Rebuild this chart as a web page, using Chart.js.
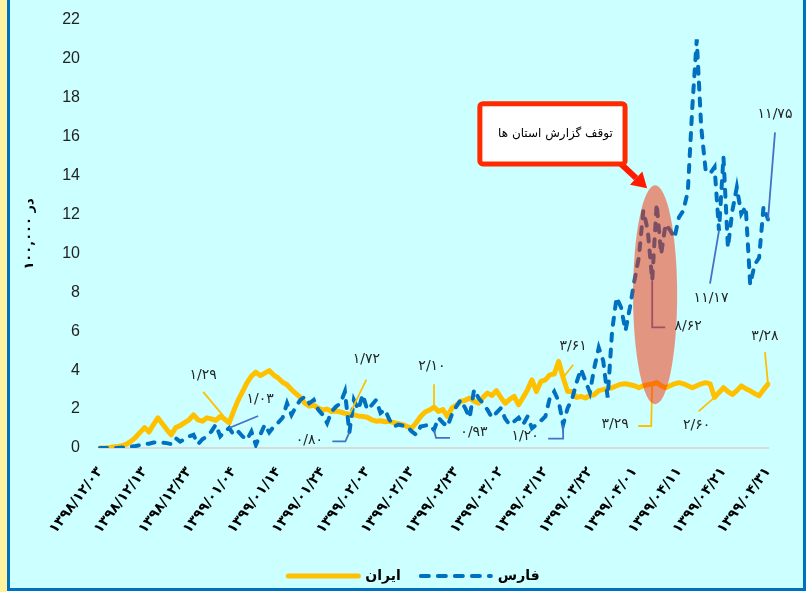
<!DOCTYPE html>
<html><head><meta charset="utf-8">
<script src="https://cdn.jsdelivr.net/npm/chart.js@4"></script>
<style>
html,body{margin:0;padding:0;width:809px;height:592px;overflow:hidden;background:#fff;}
#strip{position:absolute;left:0;top:0;width:7px;height:592px;background:#FFF3A0;}
#frame{position:absolute;left:7px;top:-3px;width:793px;height:588px;border:3px solid #0070C0;background:#CCFFFF;}
canvas{position:absolute;left:0;top:0;}
</style></head>
<body><div id="strip"></div><div id="frame"></div><canvas id="c" width="809" height="592"></canvas>
<script>
// day index from 1398/12/03 (0) to 1399/04/31 (150)
const days = Array.from({length: 151}, (_, i) => i);
const tickLabels = ['۱۳۹۸/۱۲/۰۳','۱۳۹۸/۱۲/۱۳','۱۳۹۸/۱۲/۲۳','۱۳۹۹/۰۱/۰۴','۱۳۹۹/۰۱/۱۴','۱۳۹۹/۰۱/۲۴','۱۳۹۹/۰۲/۰۳','۱۳۹۹/۰۲/۱۳','۱۳۹۹/۰۲/۲۳','۱۳۹۹/۰۳/۰۲','۱۳۹۹/۰۳/۱۲','۱۳۹۹/۰۳/۲۲','۱۳۹۹/۰۴/۰۱','۱۳۹۹/۰۴/۱۱','۱۳۹۹/۰۴/۲۱','۱۳۹۹/۰۴/۳۱'];
const seriesNames = ['ایران', 'فارس'];
const iran = [0,0,0.02,0.05,0.08,0.12,0.2,0.35,0.55,0.8,
 1.05,0.82,1.2,1.55,1.25,0.95,0.68,1.05,1.15,1.3,
 1.45,1.7,1.45,1.38,1.55,1.5,1.42,1.62,1.48,1.29,
 1.9,2.45,2.9,3.35,3.7,3.9,3.72,3.85,3.98,3.75,
 3.6,3.38,3.25,3.0,2.8,2.6,2.3,2.15,2.2,2.05,
 1.95,2.0,1.88,1.9,1.85,1.78,1.72,1.7,1.65,1.62,
 1.58,1.45,1.38,1.4,1.35,1.37,1.3,1.25,1.2,1.1,
 1.02,1.3,1.62,1.85,1.95,2.1,1.88,1.97,1.62,2.05,
 2.2,2.4,2.45,2.57,2.4,2.3,2.6,2.82,2.7,2.95,
 2.6,2.3,2.5,2.65,2.22,2.6,3.0,3.5,2.9,3.42,
 3.5,3.76,3.8,4.45,3.61,2.9,2.9,2.6,2.65,2.57,
 2.7,2.74,2.95,3.0,3.05,3.1,3.2,3.28,3.3,3.25,
 3.2,3.1,3.19,3.25,3.29,3.36,3.2,3.1,3.2,3.3,
 3.36,3.3,3.2,3.1,3.2,3.3,3.36,3.3,2.6,2.85,
 3.1,2.9,2.75,2.95,3.19,3.05,2.94,2.8,2.68,3.0,
 3.28];
const fars = [0,0,0,0,0,0.02,0.05,0.08,0.1,0.15,
 0.2,0.22,0.28,0.3,0.28,0.25,0.2,0.5,0.33,0.45,
 0.6,0.68,0.2,0.45,0.6,0.85,1.2,0.6,0.85,1.03,
 0.68,0.85,0.6,0.42,0.85,0.16,0.68,1.2,0.8,1.1,
 1.3,1.55,2.3,1.7,2.13,2.47,2.64,2.3,2.47,1.97,
 1.71,1.28,1.88,2.13,2.3,2.9,0.8,2.47,1.97,2.74,
 1.97,2.2,2.47,1.8,1.97,1.45,1.1,1.2,1.15,1.1,
 0.85,0.68,1.1,1.15,1.2,0.93,1.55,1.3,1.1,1.71,
 2.13,2.47,2.05,1.56,3.0,2.57,2.3,1.97,1.56,1.8,
 2.05,1.5,1.2,1.37,1.56,1.2,1.62,1.02,1.2,1.4,
 1.62,2.57,2.9,2.4,1.2,2.05,2.5,3.36,4.05,3.45,
 2.85,4.13,5.16,4.48,2.59,6.03,7.74,7.23,6.03,7.23,
 8.6,9.8,12.2,11.2,8.62,12.55,9.96,11.5,11.2,10.8,
 11.86,12.2,13.2,17.5,21.0,16.5,14.27,14.1,14.44,11.17,
 14.96,10.3,12.2,13.4,12.03,12.4,8.4,9.43,9.77,12.4,
 11.75];
// annotated days: [series, day index]
const notedPoints = [[0,29],[1,29],[0,56],[1,56],[0,75],[1,75],[0,104],[1,104],[0,124],[1,124],[0,138],[1,139],[0,150],[1,150]];
const noteText = 'توقف گزارش استان ها';
const yTitle = 'در ۱۰۰,۰۰۰';

// ---- styling (pixel offsets of label & leader relative to the annotated point) ----
const noteStyle = [
  {label:[-26,-48], path:[[-26,-31]]},
  {label:[31,-29], path:[[29,-12]]},
  {label:[17,-55], path:[[17,-35]]},
  {label:[-40,8], path:[[-4,9],[-17,9]]},
  {label:[-2,-41], path:[[0,-23]]},
  {label:[40,2], path:[[2,8],[16,8]]},
  {label:[10,-31], path:[[10,-13]]},
  {label:[-38,12], path:[[0,14],[-15,14]]},
  {label:[-37,40], path:[[-1,42],[-14,42]]},
  {label:[36,46], path:[[0,47],[13,47]]},
  {label:[-18,28], path:[[-16,14]]},
  {label:[-8,68], path:[[-9,53]]},
  {label:[-3,-48], path:[[-3,-32]]},
  {label:[7,-105], path:[[7,-87]]}
];
const colors = ['#FFC000', '#0070C0'];
const leaderColors = ['#FFC000', '#4472C4'];
const ellipseSpan = {from:119.7, to:129.6, low:2.25, high:13.5};
const boxSpan = {from:85.3, to:117.9, top:17.7, bottom:14.6};

const faDigits = '۰۱۲۳۴۵۶۷۸۹';
const toFa = v => v.toFixed(2).replace(/[0-9]/g, d => faDigits[d]).replace('.', '/');

const annotPlugin = {
  id: 'annot',
  afterDatasetsDraw(chart) {
    const {ctx, scales: {x, y}} = chart;
    const series = [iran, fars];
    ctx.save();
    // leaders
    notedPoints.forEach(([s, i], k) => {
      const px = x.getPixelForValue(i), py = y.getPixelForValue(series[s][i]);
      ctx.beginPath();
      ctx.strokeStyle = leaderColors[s];
      ctx.lineWidth = 1.8;
      ctx.moveTo(px, py);
      noteStyle[k].path.forEach(([dx, dy]) => ctx.lineTo(px + dx, py + dy));
      ctx.stroke();
    });
    // ellipse
    const ex1 = x.getPixelForValue(ellipseSpan.from), ex2 = x.getPixelForValue(ellipseSpan.to);
    const ey1 = y.getPixelForValue(ellipseSpan.high), ey2 = y.getPixelForValue(ellipseSpan.low);
    const ecx = (ex1 + ex2) / 2, ecy = (ey1 + ey2) / 2;
    ctx.beginPath();
    ctx.ellipse(ecx, ecy, (ex2 - ex1) / 2, (ey2 - ey1) / 2, 0, 0, Math.PI * 2);
    ctx.fillStyle = 'rgba(248,45,5,0.5)';
    ctx.fill();
    // value labels
    ctx.fillStyle = '#262626';
    ctx.font = '14px "DejaVu Sans"';
    ctx.textAlign = 'center';
    ctx.textBaseline = 'middle';
    notedPoints.forEach(([s, i], k) => {
      const px = x.getPixelForValue(i), py = y.getPixelForValue(series[s][i]);
      const [dx, dy] = noteStyle[k].label;
      ctx.fillText(toFa(series[s][i]), px + dx, py + dy);
    });
    // callout box
    const bx1 = x.getPixelForValue(boxSpan.from), bx2 = x.getPixelForValue(boxSpan.to);
    const by1 = y.getPixelForValue(boxSpan.top), by2 = y.getPixelForValue(boxSpan.bottom);
    // arrow
    const ax = bx2 - 4, ay = by2;
    const tx = ecx - 8, ty = ey1 + 3;
    const ang = Math.atan2(ty - ay, tx - ax);
    const head = 15;
    ctx.strokeStyle = '#FF1A00';
    ctx.fillStyle = '#FF1A00';
    ctx.lineWidth = 6;
    ctx.beginPath();
    ctx.moveTo(ax, ay);
    ctx.lineTo(tx - Math.cos(ang) * head, ty - Math.sin(ang) * head);
    ctx.stroke();
    ctx.beginPath();
    ctx.moveTo(tx, ty);
    ctx.lineTo(tx - Math.cos(ang) * head + Math.sin(ang) * 9, ty - Math.sin(ang) * head - Math.cos(ang) * 9);
    ctx.lineTo(tx - Math.cos(ang) * head - Math.sin(ang) * 9, ty - Math.sin(ang) * head + Math.cos(ang) * 9);
    ctx.closePath();
    ctx.fill();
    ctx.beginPath();
    ctx.roundRect(bx1, by1, bx2 - bx1, by2 - by1, 3);
    ctx.fillStyle = '#FFFFFF';
    ctx.fill();
    ctx.lineWidth = 5;
    ctx.strokeStyle = '#FF2A00';
    ctx.stroke();
    ctx.fillStyle = '#000';
    ctx.font = '12px "DejaVu Sans"';
    ctx.fillText(noteText, (bx1 + bx2) / 2 + 3, (by1 + by2) / 2);
    ctx.restore();
  }
};

new Chart(document.getElementById('c'), {
  type: 'line',
  data: {
    labels: days,
    datasets: [
      {label: seriesNames[0], data: iran, borderColor: colors[0], backgroundColor: colors[0], borderWidth: 5,
       pointRadius: 0, tension: 0, borderJoinStyle: 'round', borderCapStyle: 'round', order: 1},
      {label: seriesNames[1], data: fars, borderColor: colors[1], backgroundColor: colors[1], borderWidth: 4,
       borderDash: [7, 9], borderCapStyle: 'round', pointRadius: 0, tension: 0, order: 0}
    ]
  },
  options: {
    responsive: false,
    animation: false,
    devicePixelRatio: 1,
    events: [],
    layout: {padding: {left: 60, right: 41, top: 20, bottom: -1}},
    plugins: {
      tooltip: {enabled: false},
      legend: {
        position: 'bottom',
        labels: {
          usePointStyle: true, pointStyle: 'line', pointStyleWidth: 70,
          padding: 20, color: '#000',
          font: {family: '"DejaVu Sans"', size: 14, weight: 'bold'},
          sort: (a, b) => a.datasetIndex - b.datasetIndex,
          generateLabels: chart => Chart.defaults.plugins.legend.labels.generateLabels(chart).map(l => {
            const ds = chart.data.datasets[l.datasetIndex];
            return Object.assign(l, {lineDash: ds.borderDash ? [8, 9] : [], lineCap: 'round', lineWidth: ds.borderWidth, strokeStyle: ds.borderColor});
          })
        }
      }
    },
    scales: {
      x: {
        type: 'category',
        grid: {display: false, drawTicks: false},
        border: {display: true, color: '#D9D9D9', width: 2},
        ticks: {
          autoSkip: false, maxRotation: 53, minRotation: 53, padding: 16, color: '#000',
          font: {family: '"DejaVu Sans"', size: 14, weight: 'bold'},
          callback: (v, i) => (i % 10 === 0 ? tickLabels[i / 10] : null)
        },
        afterFit: s => { s.height = 101; }
      },
      y: {
        min: 0, max: 22,
        grid: {display: false, drawTicks: true, tickLength: 17},
        border: {display: false},
        ticks: {stepSize: 2, padding: 3, color: '#222', font: {family: '"Liberation Sans"', size: 16}},
        title: {display: true, text: yTitle, color: '#000', font: {family: '"DejaVu Sans"', size: 13, weight: 'bold'}, padding: {top: -38, bottom: 0}},
        afterFit: s => { s.width = 40; }
      }
    }
  },
  plugins: [annotPlugin]
});
</script></body></html>
